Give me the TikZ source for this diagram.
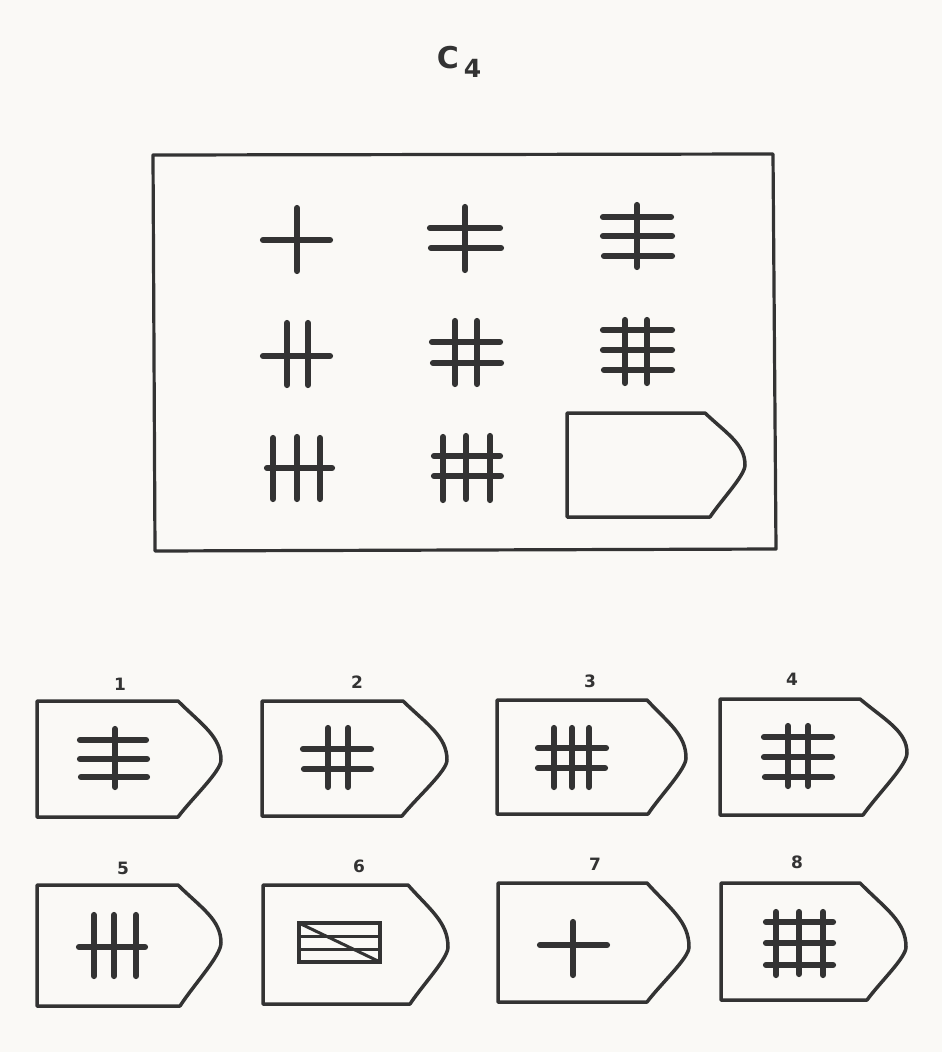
\documentclass[tikz,border=0pt]{standalone}
\usepackage{fontspec}
\newfontfamily\heavy{DejaVu Sans}
\definecolor{ink}{HTML}{333333}
\definecolor{paper}{HTML}{FAF9F6}
\tikzset{
  frameline/.style={draw=ink,line width=3.2pt,line join=round},
  tagline/.style={draw=ink,line width=3.5pt,line join=round},
  symline/.style={draw=ink,line width=6.2pt,line cap=round},
  thinline/.style={draw=ink,line width=3pt},
  numlabel/.style={font=\heavy\bfseries\fontsize{17}{19}\selectfont,text=ink,inner sep=0pt},
}
% tag shape: #1 left, #2 top, #3 top-corner x, #4 tip x, #5 tip y, #6 bottom-corner x, #7 bottom
\newcommand\tagshape[7]{%
  \draw[tagline] (#1,#2) -- (#3,#2)
    .. controls ({#3+0.55*(#4-#3)},{#2+0.40*(#5-#2)}) and (#4,{#5-0.40*(#5-#2)}) .. (#4,#5)
    .. controls (#4,{#5+0.2*(#7-#5)}) and ({#6+0.35*(#4-#6)},{#7-0.35*(#7-#5)}) .. (#6,#7)
    -- (#1,#7) -- cycle;}
\newcommand\vl[3]{\draw[symline] (#1,#2) -- (#1,#3);}
\newcommand\hl[3]{\draw[symline] (#2,#1) -- (#3,#1);}
\begin{document}
\begin{tikzpicture}[x=1pt,y=-1pt]
\fill[paper] (0,0) rectangle (942,1052);
\useasboundingbox (0,0) rectangle (942,1052);

% title
\node[font=\heavy\bfseries\fontsize{30}{32}\selectfont,text=ink,inner sep=0pt] (title) at (459,62) {C\,\raisebox{-0.3em}{\fontsize{25}{27}\selectfont 4}};

% main frame
\draw[frameline] (153,155) -- (773,154) -- (776,549) -- (155,551) -- cycle;

% row 1
\vl{297}{208}{271} \hl{240}{263}{330}
\vl{465}{207}{270} \hl{228}{430}{500} \hl{248}{431}{501}
\vl{637}{205}{267} \hl{217}{603}{671} \hl{236}{603}{672} \hl{256}{604}{672}
% row 2
\vl{287}{323}{385} \vl{308}{323}{385} \hl{356}{263}{330}
\vl{455}{321}{384} \vl{477}{321}{384} \hl{342}{432}{500} \hl{363}{433}{501}
\vl{625}{320}{383} \vl{647}{320}{383} \hl{330}{603}{672} \hl{350}{603}{672} \hl{370}{604}{672}
% row 3
\vl{273}{438}{499} \vl{297}{437}{499} \vl{320}{438}{499} \hl{468}{267}{332}
\vl{443}{437}{500} \vl{466}{436}{499} \vl{490}{436}{500} \hl{456}{434}{500} \hl{476}{434}{501}
% empty answer slot
\tagshape{567}{413}{705}{745}{465}{710}{517}

% options labels
\node[numlabel] (l1) at (120,684) {1};
\node[numlabel] (l2) at (357,682) {2};
\node[numlabel] (l3) at (590,681) {3};
\node[numlabel] (l4) at (792,679) {4};
\node[numlabel] (l5) at (123,868) {5};
\node[numlabel] (l6) at (359,866) {6};
\node[numlabel] (l7) at (595,864) {7};
\node[numlabel] (l8) at (797,862) {8};

% option 1
\tagshape{37}{701}{178}{221}{760}{178}{817}
\vl{115}{729}{787} \hl{740}{80}{146} \hl{759}{80}{147} \hl{777}{81}{147}
% option 2
\tagshape{262}{701}{403}{447}{760}{402}{816}
\vl{328}{728}{787} \vl{348}{728}{787} \hl{749}{303}{371} \hl{769}{304}{371}
% option 3
\tagshape{497}{700}{647}{686}{758}{648}{814}
\vl{554}{728}{787} \vl{572}{728}{787} \vl{589}{728}{787} \hl{748}{538}{606} \hl{768}{538}{605}
% option 4
\tagshape{720}{699}{860}{907}{753}{863}{815}
\vl{788}{726}{786} \vl{808}{726}{786} \hl{737}{764}{832} \hl{757}{764}{832} \hl{777}{765}{832}

% option 5
\tagshape{37}{885}{178}{221}{943}{180}{1006}
\vl{94}{915}{976} \vl{114}{915}{976} \vl{136}{915}{976} \hl{947}{79}{145}
% option 6
\tagshape{263}{885}{408}{448}{947}{410}{1004}
\draw[thinline] (299,936) -- (380,936) (299,949) -- (380,949);
\draw[thinline] (301,924) -- (378,961);
\draw[draw=ink,line width=4.5pt] (299,923) rectangle (380,962);
% option 7
\tagshape{498}{883}{647}{689}{947}{647}{1002}
\vl{573}{922}{975} \hl{945}{540}{607}
% option 8
\tagshape{721}{883}{860}{906}{947}{867}{1000}
\vl{776}{912}{975} \vl{799}{912}{974} \vl{823}{912}{975} \hl{922}{766}{833} \hl{943}{766}{833} \hl{965}{766}{833}
\end{tikzpicture}
\end{document}
